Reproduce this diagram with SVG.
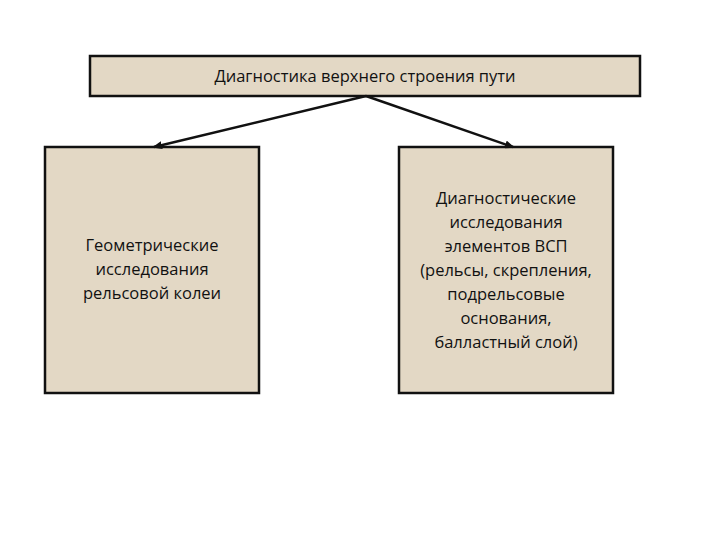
<svg xmlns="http://www.w3.org/2000/svg" width="720" height="540" viewBox="0 0 720 540">
<style>
.box{fill:#e3d8c5;stroke:#111;stroke-width:2.5}
.t{font-family:"Open Sans","Liberation Sans",sans-serif;font-size:16.5px;fill:#111;text-anchor:middle}
.c{stroke:#111;stroke-width:2.5;fill:none;marker-end:url(#a)}
</style>
<defs><marker id="a" markerWidth="10" markerHeight="8" refX="8" refY="4" orient="auto" markerUnits="userSpaceOnUse"><path d="M0,0 L10,4 L0,8 Z" fill="#111"/></marker></defs>
<rect width="720" height="540" fill="#fff"/>
<g id="top"><rect class="box" x="90" y="56" width="550" height="40"/><text class="t" x="365" y="82">Диагностика верхнего строения пути</text></g>
<g id="left"><rect class="box" x="45" y="147" width="214" height="246"/>
<text class="t" x="152" y="251">Геометрические</text><text class="t" x="152" y="275">исследования</text><text class="t" x="152" y="299">рельсовой колеи</text></g>
<g id="right"><rect class="box" x="399" y="147" width="214" height="246"/>
<text class="t" x="506" y="204">Диагностические</text><text class="t" x="506" y="228">исследования</text><text class="t" x="506" y="252">элементов ВСП</text><text class="t" x="506" y="276">(рельсы, скрепления,</text><text class="t" x="506" y="300">подрельсовые</text><text class="t" x="506" y="324">основания,</text><text class="t" x="506" y="348">балластный слой)</text></g>
<g id="connectors"><path class="c" d="M366,96 L154,147"/><path class="c" d="M366,96 L513,147"/></g>
</svg>
